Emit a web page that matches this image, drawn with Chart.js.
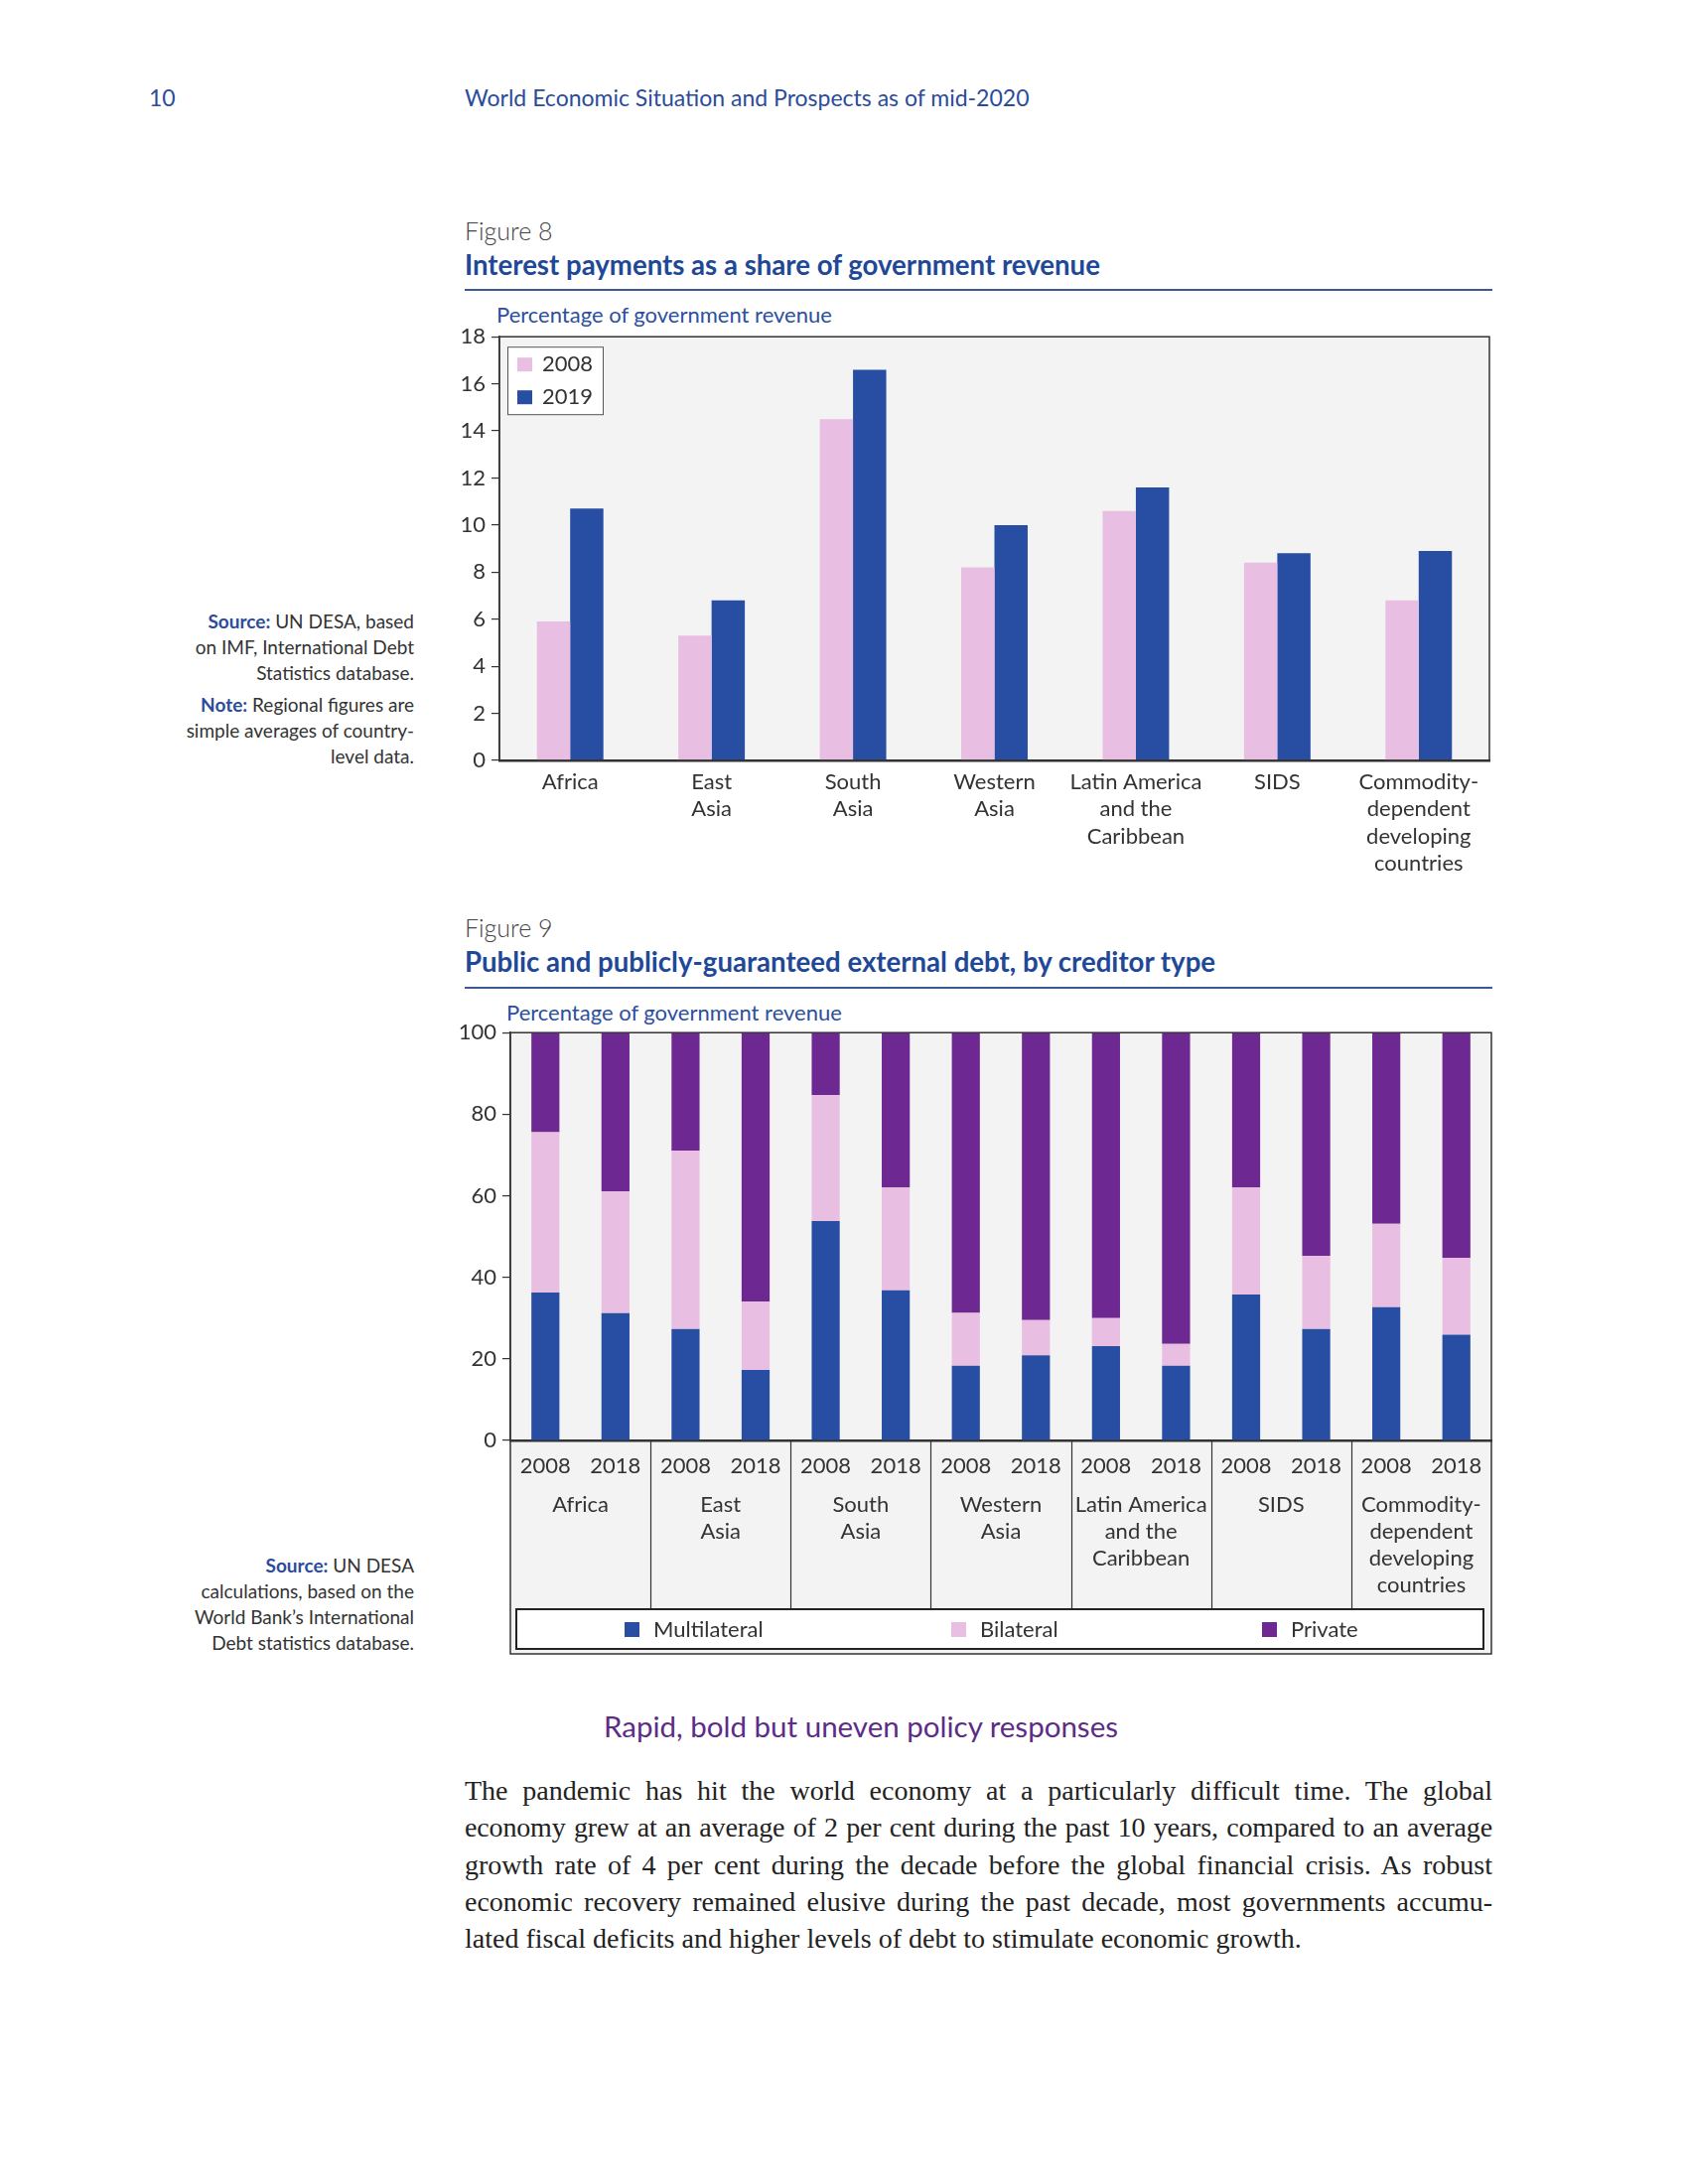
<!DOCTYPE html>
<html>
<head>
<meta charset="utf-8">
<script src="https://cdn.jsdelivr.net/npm/chart.js@4.4.1/dist/chart.umd.min.js"></script>
<style>
  body { margin: 0; width: 1700px; height: 2200px; background: #fff; position: relative; font-family: Lato, "Open Sans", sans-serif; }
  .abs { position: absolute; white-space: nowrap; }
  .run { font-size: 23px; line-height: 26px; color: #2b4c9b; }
  .fig { font-size: 25px; line-height: 30px; color: #444; font-weight: 300; }
  .title { font-size: 27.6px; line-height: 32px; color: #1f4897; font-weight: 700; }
  .rule { height: 1.5px; background: #3b5a95; left: 468px; width: 1035px; }
  .axt { font-size: 22px; line-height: 26px; color: #2c4f9e; }
  .note { font-size: 19px; line-height: 26px; color: #333; text-align: right; right: 1283px; }
  .note b { color: #2b4c9b; }
  .head { font-size: 29.5px; line-height: 34px; color: #5d2c86; }
  .para { left: 468px; width: 1035px; font-family: "Liberation Serif", serif; font-size: 28px; color: #222; }
  .para div { text-align: justify; text-align-last: justify; line-height: 37.25px; white-space: nowrap; }
  .para div.tight { letter-spacing: -0.15px; }
  canvas { position: absolute; }
</style>
</head>
<body>
<div class="abs run" style="left:150px;top:85px;">10</div>
<div class="abs run" style="left:468px;top:85px;">World Economic Situation and Prospects as of mid-2020</div>

<div class="abs fig" style="left:468px;top:217px;">Figure 8</div>
<div class="abs title" style="left:468px;top:251px;">Interest payments as a share of government revenue</div>
<div class="abs rule" style="top:291px;"></div>
<div class="abs axt" style="left:500px;top:304px;">Percentage of government revenue</div>
<div class="abs note" style="top:613px;">
  <div><b>Source:</b> UN DESA, based</div>
  <div>on IMF, International Debt</div>
  <div>Statistics database.</div>
  <div style="margin-top:6px;"><b>Note:</b> Regional figures are</div>
  <div>simple averages of country-</div>
  <div>level data.</div>
</div>
<canvas id="fig8" width="1070" height="570" style="left:440px;top:320px;"></canvas>

<div class="abs fig" style="left:468px;top:919px;">Figure 9</div>
<div class="abs title" style="left:468px;top:953px;">Public and publicly-guaranteed external debt, by creditor type</div>
<div class="abs rule" style="top:994px;"></div>
<div class="abs axt" style="left:510px;top:1007px;">Percentage of government revenue</div>
<div class="abs note" style="top:1564px;">
  <div><b>Source:</b> UN DESA</div>
  <div>calculations, based on the</div>
  <div>World Bank’s International</div>
  <div>Debt statistics database.</div>
</div>
<canvas id="fig9" width="1072" height="651" style="left:440px;top:1021px;"></canvas>

<div class="abs head" style="left:608px;top:1722px;">Rapid, bold but uneven policy responses</div>
<div class="abs para" style="top:1785px;">
  <div>The pandemic has hit the world economy at a particularly difficult time. The global</div>
  <div class="tight">economy grew at an average of 2 per cent during the past 10 years, compared to an average</div>
  <div>growth rate of 4 per cent during the decade before the global financial crisis. As robust</div>
  <div>economic recovery remained elusive during the past decade, most governments accumu-</div>
  <div style="text-align-last:left;">lated fiscal deficits and higher levels of debt to stimulate economic growth.</div>
</div>

<script>
// 区域名称（两张图共用）
const regions = [
  ["Africa"],
  ["East", "Asia"],
  ["South", "Asia"],
  ["Western", "Asia"],
  ["Latin America", "and the", "Caribbean"],
  ["SIDS"],
  ["Commodity-", "dependent", "developing", "countries"],
];

// Figure 8
const fig8Years = ["2008", "2019"];
const interest2008 = [5.9, 5.3, 14.5, 8.2, 10.6, 8.4, 6.8];
const interest2019 = [10.7, 6.8, 16.6, 10.0, 11.6, 8.8, 8.9];
const fig8Max = 18;
const fig8Step = 2;

// Figure 9
const debtYears = ["2008", "2018"];
const creditorTypes = ["Multilateral", "Bilateral", "Private"];
const multilateral = [36.3, 31.2, 27.3, 17.3, 53.8, 36.8, 18.3, 20.9, 23.1, 18.3, 35.8, 27.3, 32.7, 25.9];
const bilateral = [39.3, 29.9, 43.8, 16.7, 30.9, 25.2, 13.0, 8.6, 6.9, 5.4, 26.2, 18.0, 20.4, 18.9];
const privateDebt = [24.4, 38.9, 28.9, 66.0, 15.3, 38.0, 68.7, 70.5, 70.0, 76.3, 38.0, 54.7, 46.9, 55.2];
const fig9Max = 100;
const fig9Step = 20;

const PINK = "#e8bfe2";
const BLUE = "#284ea3";
const PURPLE = "#6d2891";
const TEXT = "#333";
const FONT = "Lato, 'Open Sans', sans-serif";

// 绘图区灰色背景和外框
const plotFrame = {
  id: "plotFrame",
  beforeDraw(chart, args, opts) {
    const { ctx, chartArea: a } = chart;
    const bottom = a.bottom + (opts.extra || 0);
    ctx.save();
    ctx.fillStyle = "#f3f3f3";
    ctx.fillRect(a.left, a.top, a.right - a.left, bottom - a.top);
    ctx.restore();
  },
  afterDraw(chart, args, opts) {
    const { ctx, chartArea: a } = chart;
    const bottom = a.bottom + (opts.extra || 0);
    ctx.save();
    ctx.strokeStyle = "#333";
    ctx.lineWidth = 1.5;
    ctx.strokeRect(a.left, a.top, a.right - a.left, bottom - a.top);
    ctx.restore();
  },
};

// Figure 8 图例（绘图区左上角的小框）
const boxLegend = {
  id: "boxLegend",
  afterDraw(chart) {
    const { ctx, chartArea: a } = chart;
    const x0 = a.left + 8, y0 = a.top + 10;
    ctx.save();
    ctx.fillStyle = "#fff";
    ctx.fillRect(x0, y0, 96, 68);
    ctx.strokeStyle = "#555";
    ctx.lineWidth = 1;
    ctx.strokeRect(x0 + 0.5, y0 + 0.5, 96, 68);
    ctx.font = "22px " + FONT;
    ctx.textBaseline = "middle";
    chart.data.datasets.forEach((ds, i) => {
      const cy = y0 + 18 + i * 33;
      ctx.fillStyle = ds.backgroundColor;
      ctx.fillRect(x0 + 10, cy - 7, 15, 14);
      ctx.fillStyle = TEXT;
      ctx.fillText(ds.label, x0 + 35, cy);
    });
    ctx.restore();
  },
};

// Figure 9 区域分组标签、分隔线和底部图例
const legendOffsets = [115, 444, 757];
const groupLabels = {
  id: "groupLabels",
  afterDraw(chart) {
    const { ctx, chartArea: a } = chart;
    const xs = chart.scales.x;
    const legTop = a.bottom + 170;
    ctx.save();
    ctx.font = "22px " + FONT;
    ctx.textAlign = "center";
    ctx.textBaseline = "middle";
    ctx.strokeStyle = "#333";
    ctx.lineWidth = 1.2;
    regions.forEach((lines, g) => {
      const l = xs.getPixelForValue(g * 2);
      const r = xs.getPixelForValue(g * 2 + 1);
      ctx.fillStyle = TEXT;
      lines.forEach((t, i) => ctx.fillText(t, (l + r) / 2, a.bottom + 65 + i * 27));
      if (g < regions.length - 1) {
        const sx = Math.round((r + xs.getPixelForValue(g * 2 + 2)) / 2) + 0.5;
        ctx.beginPath();
        ctx.moveTo(sx, a.bottom);
        ctx.lineTo(sx, legTop);
        ctx.stroke();
      }
    });
    // 图例
    ctx.fillStyle = "#fff";
    ctx.fillRect(a.left + 6, legTop, a.right - a.left - 14, 40);
    ctx.strokeStyle = "#222";
    ctx.lineWidth = 2;
    ctx.strokeRect(a.left + 6, legTop, a.right - a.left - 14, 40);
    ctx.textAlign = "left";
    chart.data.datasets.forEach((ds, i) => {
      const x = a.left + legendOffsets[i];
      ctx.fillStyle = ds.backgroundColor;
      ctx.fillRect(x, legTop + 13, 15, 15);
      ctx.fillStyle = TEXT;
      ctx.fillText(ds.label, x + 29, legTop + 21);
    });
    ctx.restore();
  },
};

function yAxis(max, step, width) {
  return {
    min: 0,
    max: max,
    stacked: true,
    afterFit: (s) => { s.width = width; },
    ticks: { stepSize: step, color: TEXT, font: { family: FONT, size: 22 }, padding: 6 },
    grid: { drawOnChartArea: false, drawTicks: true, tickLength: 8, color: "#333", lineWidth: 1.2 },
    border: { display: true, color: "#333", width: 1.5 },
  };
}

new Chart(document.getElementById("fig8"), {
  type: "bar",
  data: {
    labels: regions,
    datasets: [
      { label: fig8Years[0], data: interest2008, backgroundColor: PINK },
      { label: fig8Years[1], data: interest2019, backgroundColor: BLUE },
    ],
  },
  options: {
    responsive: false,
    animation: false,
    layout: { padding: { top: 18, right: 10, left: 0, bottom: 0 } },
    categoryPercentage: 0.47,
    barPercentage: 1.0,
    plugins: { legend: { display: false }, tooltip: { enabled: false }, plotFrame: {} },
    scales: {
      x: {
        afterFit: (s) => { s.height = 124; },
        ticks: { color: TEXT, font: { family: FONT, size: 22, lineHeight: 1.25 }, padding: 8, maxRotation: 0, autoSkip: false },
        grid: { display: false, drawTicks: false },
        border: { display: true, color: "#333", width: 2.5 },
      },
      y: Object.assign(yAxis(fig8Max, fig8Step, 63), { stacked: false }),
    },
  },
  plugins: [plotFrame, boxLegend],
});

new Chart(document.getElementById("fig9"), {
  type: "bar",
  data: {
    labels: regions.flatMap(() => debtYears),
    datasets: [
      { label: creditorTypes[0], data: multilateral, backgroundColor: BLUE },
      { label: creditorTypes[1], data: bilateral, backgroundColor: PINK },
      { label: creditorTypes[2], data: privateDebt, backgroundColor: PURPLE },
    ],
  },
  options: {
    responsive: false,
    animation: false,
    layout: { padding: { top: 16, right: 10, left: 0, bottom: 0 } },
    categoryPercentage: 1.0,
    barPercentage: 0.4,
    plugins: { legend: { display: false }, tooltip: { enabled: false }, plotFrame: { extra: 215 } },
    scales: {
      x: {
        stacked: true,
        afterFit: (s) => { s.height = 221; },
        ticks: { color: TEXT, font: { family: FONT, size: 22 }, padding: 13, maxRotation: 0, autoSkip: false },
        grid: { display: false, drawTicks: false },
        border: { display: true, color: "#333", width: 2.5 },
      },
      y: yAxis(fig9Max, fig9Step, 74),
    },
  },
  plugins: [plotFrame, groupLabels],
});
</script>
</body>
</html>
